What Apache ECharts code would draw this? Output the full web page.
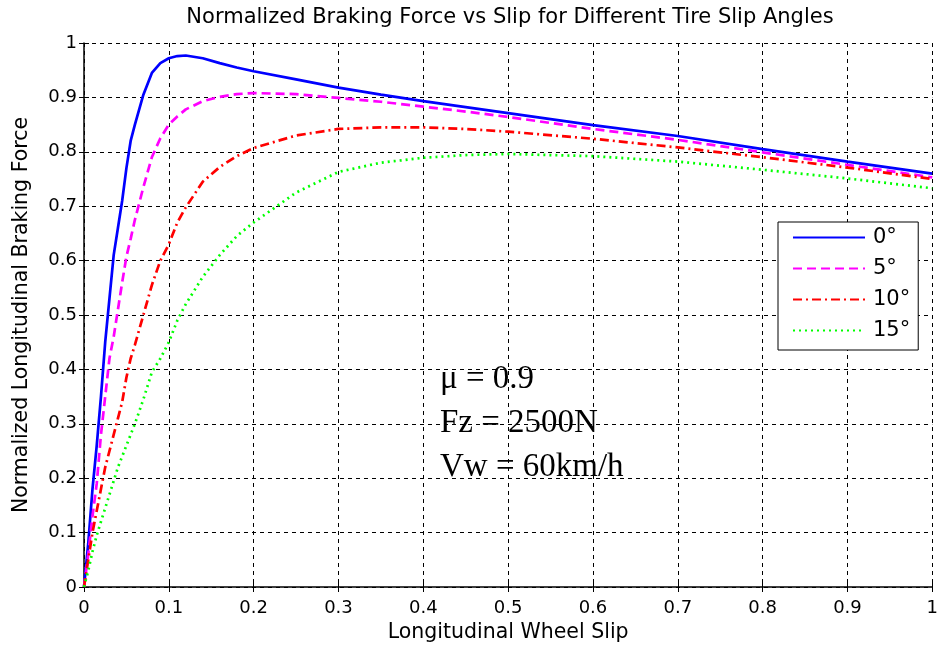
<!DOCTYPE html>
<html>
<head>
<meta charset="utf-8">
<title>Normalized Braking Force vs Slip</title>
<script src="https://cdn.jsdelivr.net/npm/echarts@6/dist/echarts.min.js"></script>
<style>
  html, body { margin: 0; padding: 0; background: #fff; }
  #chart { width: 941px; height: 657px; }
</style>
</head>
<body>
<div id="chart"></div>
<script>
// slip values shared by every curve
var slip = [0, 0.005, 0.01, 0.015, 0.02, 0.025, 0.03, 0.035, 0.04, 0.045, 0.05, 0.055, 0.06,
  0.07, 0.08, 0.09, 0.1, 0.11, 0.12, 0.14, 0.16, 0.18, 0.2, 0.25, 0.3, 0.35, 0.4, 0.45, 0.5,
  0.6, 0.7, 0.8, 0.9, 1.0]

var angleNames = ['0°', '5°', '10°', '15°']

var force0 = [0, 0.08, 0.18, 0.26, 0.35, 0.45, 0.53, 0.61, 0.66, 0.71, 0.77, 0.82, 0.85,
  0.905, 0.945, 0.963, 0.972, 0.976, 0.977, 0.972, 0.963, 0.955, 0.948, 0.933, 0.918, 0.905,
  0.893, 0.882, 0.871, 0.849, 0.829, 0.805, 0.782, 0.76]
var force5 = [0, 0.06, 0.13, 0.19, 0.28, 0.35, 0.42, 0.46, 0.51, 0.56, 0.607, 0.64, 0.675,
  0.735, 0.79, 0.825, 0.85, 0.865, 0.878, 0.893, 0.901, 0.906, 0.908, 0.906, 0.899, 0.892,
  0.883, 0.874, 0.864, 0.842, 0.822, 0.799, 0.776, 0.753]
var force10 = [0, 0.05, 0.1, 0.14, 0.18, 0.22, 0.25, 0.28, 0.31, 0.34, 0.385, 0.42, 0.445,
  0.5, 0.555, 0.6, 0.63, 0.67, 0.698, 0.745, 0.772, 0.792, 0.807, 0.83, 0.842, 0.845,
  0.845, 0.842, 0.837, 0.824, 0.808, 0.79, 0.771, 0.75]
var force15 = [0, 0.03, 0.065, 0.095, 0.12, 0.145, 0.17, 0.195, 0.22, 0.24, 0.26, 0.28, 0.3,
  0.345, 0.395, 0.42, 0.45, 0.49, 0.52, 0.57, 0.61, 0.645, 0.67, 0.725, 0.763, 0.78,
  0.789, 0.794, 0.796, 0.792, 0.782, 0.767, 0.751, 0.733]

var notes = ['μ = 0.9', 'Fz = 2500N', 'Vw = 60km/h']

// matlab's screen font is wide, DejaVu Sans is the closest fit
var sansFont = '"DejaVu Sans", "Liberation Sans", sans-serif'
var serifFont = '"Liberation Serif", "Times New Roman", serif'

function pairs (ys) {
  return slip.map(function (x, i) { return [x, ys[i]] })
}

function curve (name, ys, color, dash) {
  return {
    name: name,
    type: 'line',
    data: pairs(ys),
    symbol: 'none',
    showSymbol: false,
    smooth: false,
    animation: false,
    lineStyle: { color: color, width: 2.7, type: dash },
    itemStyle: { color: color },
  }
}

var chart = echarts.init(document.getElementById('chart'))

var gridLine = {
  show: true,
  lineStyle: { color: '#000', width: 1, type: [4, 4] },
}

var option = {
  backgroundColor: '#fff',
  animation: false,
  title: {
    text: 'Normalized Braking Force vs Slip for Different Tire Slip Angles',
    left: 510,
    textAlign: 'center',
    top: 7,
    padding: 0,
    textStyle: { fontFamily: sansFont, fontSize: 21, fontWeight: 'normal', color: '#000' },
  },
  grid: { left: 84, right: 5, top: 43, bottom: 70, containLabel: false },
  legend: {
    orient: 'vertical',
    left: 778,
    top: 222,
    data: angleNames,
    itemWidth: 72,
    itemHeight: 14,
    itemGap: 10,
    padding: [5, 8, 9, 14],
    backgroundColor: '#fff',
    borderColor: '#000',
    borderWidth: 1,
    borderRadius: 0,
    z: 10,
    // hide the round marker, keep the line sample
    itemStyle: { opacity: 0, borderWidth: 0 },
    textStyle: { fontFamily: sansFont, fontSize: 21, color: '#000', padding: [0, 0, 0, 3] },
  },
  xAxis: [
    {
      type: 'value',
      min: 0,
      max: 1,
      interval: 0.1,
      name: 'Longitudinal Wheel Slip',
      nameLocation: 'middle',
      nameGap: 32,
      nameTextStyle: { fontFamily: sansFont, fontSize: 20.5, color: '#000' },
      axisLine: { show: true, onZero: false, lineStyle: { color: '#000', width: 1.5 } },
      axisTick: { show: true, inside: true, length: 5, lineStyle: { color: '#000' } },
      axisLabel: { margin: 12, fontFamily: sansFont, fontSize: 18, color: '#000' },
      splitLine: gridLine,
    },
    {
      // top side ticks only
      type: 'value',
      position: 'top',
      min: 0,
      max: 1,
      interval: 0.1,
      axisLine: { show: false },
      axisTick: { show: true, inside: true, length: 5, lineStyle: { color: '#000' } },
      axisLabel: { show: false },
      splitLine: { show: false },
    },
  ],
  yAxis: [
    {
      type: 'value',
      min: 0,
      max: 1,
      interval: 0.1,
      name: 'Normalized Longitudinal Braking Force',
      nameLocation: 'middle',
      nameGap: 52,
      nameTextStyle: { fontFamily: sansFont, fontSize: 20.5, color: '#000' },
      axisLine: { show: true, onZero: false, lineStyle: { color: '#000', width: 1.5 } },
      axisTick: { show: true, inside: true, length: 5, lineStyle: { color: '#000' } },
      axisLabel: { margin: 7, fontFamily: sansFont, fontSize: 18, color: '#000' },
      splitLine: gridLine,
    },
    {
      // right side ticks only
      type: 'value',
      position: 'right',
      min: 0,
      max: 1,
      interval: 0.1,
      axisLine: { show: false },
      axisTick: { show: true, inside: true, length: 5, lineStyle: { color: '#000' } },
      axisLabel: { show: false },
      splitLine: { show: false },
    },
  ],
  series: [
    curve(angleNames[0], force0, '#0000ff', 'solid'),
    curve(angleNames[1], force5, '#ff00ff', [9, 5]),
    curve(angleNames[2], force10, '#ff0000', [9, 4, 2, 4]),
    curve(angleNames[3], force15, '#00ff00', [2, 4]),
  ],
  graphic: notes.map(function (txt, i) {
    return {
      type: 'text',
      x: 440,
      y: 379 + i * 44,
      z: 20,
      style: {
        text: txt,
        font: '33px ' + serifFont,
        fill: '#000',
        verticalAlign: 'middle',
        align: 'left',
      },
    }
  }),
}

chart.setOption(option)
</script>
</body>
</html>
